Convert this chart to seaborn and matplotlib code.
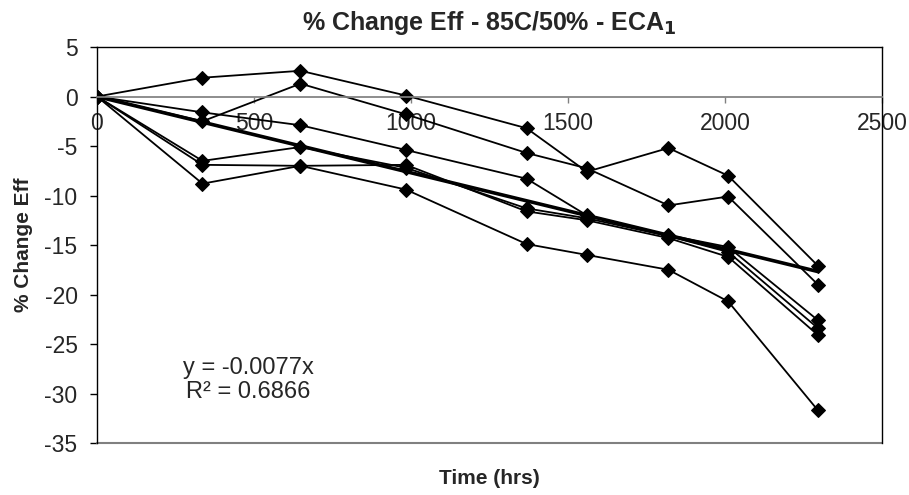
import matplotlib
matplotlib.use('Agg')
import matplotlib.pyplot as plt
import seaborn as sns

# Time points (hrs) and % change in efficiency for each sample
hours = [0, 336, 648, 984, 1368, 1560, 1820, 2010, 2296]
sample_1 = [0, 1.9, 2.6, 0.1, -3.2, -7.6, -5.2, -8.0, -17.1]
sample_2 = [0, -2.5, 1.3, -1.8, -5.7, -7.25, -11.0, -10.1, -19.0]
sample_3 = [0, -1.6, -2.9, -5.4, -8.3, -12.0, -14.0, -15.2, -22.6]
sample_4 = [0, -6.5, -5.1, -7.2, -11.3, -12.3, -14.1, -15.7, -23.4]
sample_5 = [0, -6.9, -7.0, -6.9, -11.6, -12.5, -14.3, -16.2, -24.1]
sample_6 = [0, -8.8, -7.0, -9.4, -14.9, -16.0, -17.5, -20.7, -31.7]
samples = [sample_1, sample_2, sample_3, sample_4, sample_5, sample_6]

# Linear trendline through origin (Excel)
trend_slope = -0.0077
trend_r2 = 0.6866
x_ticks = [0, 500, 1000, 1500, 2000, 2500]
y_ticks = [-35, -30, -25, -20, -15, -10, -5, 0, 5]

sns.set_theme(style='white')
plt.rcParams['font.family'] = ['Liberation Sans', 'DejaVu Sans']

fig = plt.figure(figsize=(9.09, 4.95), dpi=100)
ax = fig.add_axes([0.1067, 0.105, 0.8636, 0.80])

for ys in samples:
    sns.lineplot(x=hours, y=ys, ax=ax, color='black', linewidth=1.3,
                 marker='D', markersize=7, markeredgecolor='black', legend=False)

trend_x = [hours[0], hours[-1]]
sns.lineplot(x=trend_x, y=[trend_slope * x for x in trend_x], ax=ax,
             color='black', linewidth=2.6, legend=False)

ax.set_xlim(0, 2500)
ax.set_ylim(-35, 5)
ax.set_xticks(x_ticks)
ax.set_yticks(y_ticks)
ax.set_xticklabels([str(t) for t in x_ticks])
ax.set_yticklabels([str(t) for t in y_ticks])

# x axis crosses at y = 0, frame kept around the plot area
ax.spines['bottom'].set_position(('data', 0))
ax.spines['bottom'].set_color('#808080')
for side in ['top', 'right', 'left']:
    ax.spines[side].set_color('black')
    ax.spines[side].set_linewidth(1.0)
ax.axhline(-35, color='#808080', linewidth=1.5, clip_on=False)

ax.tick_params(axis='x', direction='out', length=4, width=1, color='#808080',
               pad=7, labelsize=16.5, bottom=True)
ax.tick_params(axis='y', direction='out', length=5, width=1, color='black',
               pad=9, labelsize=16.5, left=True)

ax.set_title('% Change Eff - 85C/50% - ECA$_\\mathbf{1}$', fontsize=18,
             fontweight='bold', pad=12)
ax.set_ylabel('% Change Eff', fontsize=15, fontweight='bold', labelpad=8)
ax.text(0.5, -0.09, 'Time (hrs)', transform=ax.transAxes, ha='center',
        va='center', fontsize=15, fontweight='bold')

ax.text(481, -27.4, f'y = {trend_slope}x', ha='center', va='center', fontsize=17)
ax.text(481, -29.8, f'R² = {trend_r2}', ha='center', va='center', fontsize=17)

fig.savefig('out.png', dpi=100)
